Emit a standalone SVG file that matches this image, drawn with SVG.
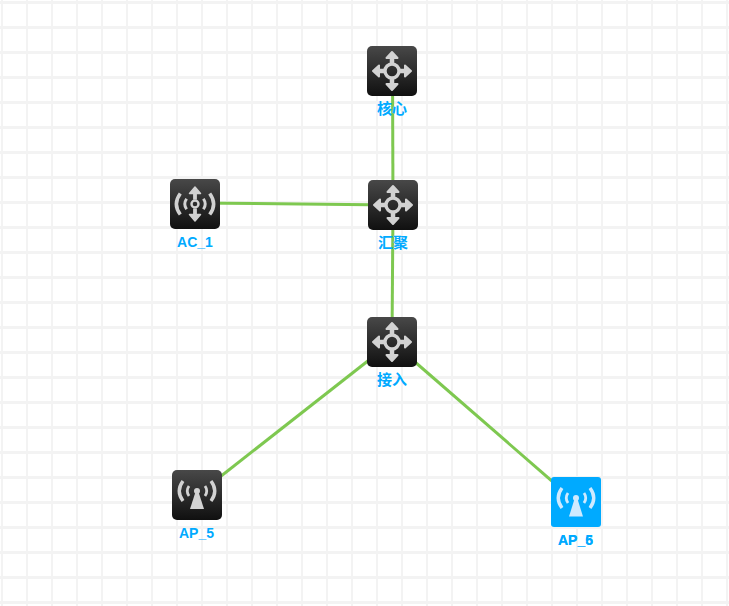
<svg xmlns="http://www.w3.org/2000/svg" width="729" height="606" viewBox="0 0 729 606">
<style>
.lbl{font:bold 14px "Liberation Sans","Noto Sans CJK SC",sans-serif;fill:#00aaff;text-anchor:middle}
.cjk{font-size:15px}
.link{stroke:#7ec850;stroke-width:3;fill:none}
.g{fill:#d2d2d2}
.gs{stroke:#d2d2d2;fill:none}
.w{fill:#cfeaff}
.ws{stroke:#cfeaff;fill:none}
</style>
<defs>
<pattern id="grid" width="25" height="25" patternUnits="userSpaceOnUse" x="0" y="0">
<rect x="1" width="2" height="25" fill="#f3f3f3"/>
<rect y="1" width="25" height="3" fill="#f3f3f3"/>
</pattern>
<linearGradient id="dark" x1="0" y1="0" x2="0" y2="1">
<stop offset="0" stop-color="#484848"/>
<stop offset="1" stop-color="#101010"/>
</linearGradient>
<g id="arrows">
<path class="gs" stroke-width="4.500" d="M0-8V-15M0 8V15M-8 0H-15M8 0H15"/>
<path class="g" stroke="#d2d2d2" stroke-width="2" stroke-linejoin="round" d="M0-19 5.500-13H-5.500ZM0 19 5.500 13H-5.500ZM-19 0-13-5.500V5.500ZM19 0 13-5.500V5.500Z"/>
<circle r="7" class="gs" stroke-width="3.400"/>
</g>
<g id="waves">
<path d="M-14-10Q-21.500 0-14 10M14-10Q21.500 0 14 10" stroke-width="3.400"/>
<path d="M-8-5Q-11.500 0-8 5M8-5Q11.500 0 8 5" stroke-width="2.800"/>
</g>
</defs>
<rect width="729" height="606" fill="#fff"/>
<rect width="729" height="606" fill="url(#grid)"/>
<g id="connectors">
<path class="link" d="M392.500 71 393 205"/>
<path class="link" d="M195 203 393 205"/>
<path class="link" d="M393 205 392 342"/>
<path class="link" d="M392 342 197 495"/>
<path class="link" d="M392 342 576 502"/>
</g>
<g id="node-core">
<rect x="367" y="46" width="50" height="50" rx="5" fill="url(#dark)"/>
<use href="#arrows" x="392" y="71"/>
<text class="lbl cjk" x="392" y="114">核心</text>
</g>
<g id="node-agg">
<rect x="368" y="180" width="50" height="50" rx="5" fill="url(#dark)"/>
<use href="#arrows" x="393" y="205"/>
<text class="lbl cjk" x="393" y="248">汇聚</text>
</g>
<g id="node-access">
<rect x="367" y="317" width="50" height="50" rx="5" fill="url(#dark)"/>
<use href="#arrows" x="392" y="342"/>
<text class="lbl cjk" x="392" y="385">接入</text>
</g>
<g id="node-ac1">
<rect x="170" y="179" width="50" height="50" rx="5" fill="url(#dark)"/>
<g transform="translate(195 204)">
<path class="gs" stroke-width="3.800" d="M0-4.500V-12M0 4.500V12"/>
<path class="g" stroke="#d2d2d2" stroke-width="1.500" stroke-linejoin="round" d="M0-17 5.500-10.500H-5.500ZM0 17 5.500 10.500H-5.500Z"/>
<circle r="3.500" class="gs" stroke-width="2.400"/>
<g transform="scale(1.050)"><use href="#waves" class="gs"/></g>
</g>
<text class="lbl" x="195" y="247">AC_1</text>
</g>
<g id="node-ap5">
<rect x="172" y="470" width="50" height="50" rx="5" fill="url(#dark)"/>
<g transform="translate(197 491)">
<use href="#waves" class="gs"/>
<circle r="3" class="g"/>
<path class="g" d="M-1.500 1H1.500L7 18H-7Z"/>
</g>
<text class="lbl" x="196.500" y="538">AP_5</text>
</g>
<g id="node-ap6">
<rect x="551" y="477" width="50" height="50" rx="3" fill="#00aaff"/>
<g transform="translate(576 498)">
<use href="#waves" class="ws"/>
<circle r="3" class="w"/>
<path class="w" d="M-1.500 1H1.500L7 18.500H-7Z"/>
</g>
<text class="lbl" x="575.500" y="545">AP_5</text>
<text class="lbl" x="575.500" y="545">AP_6</text>
</g>
</svg>
